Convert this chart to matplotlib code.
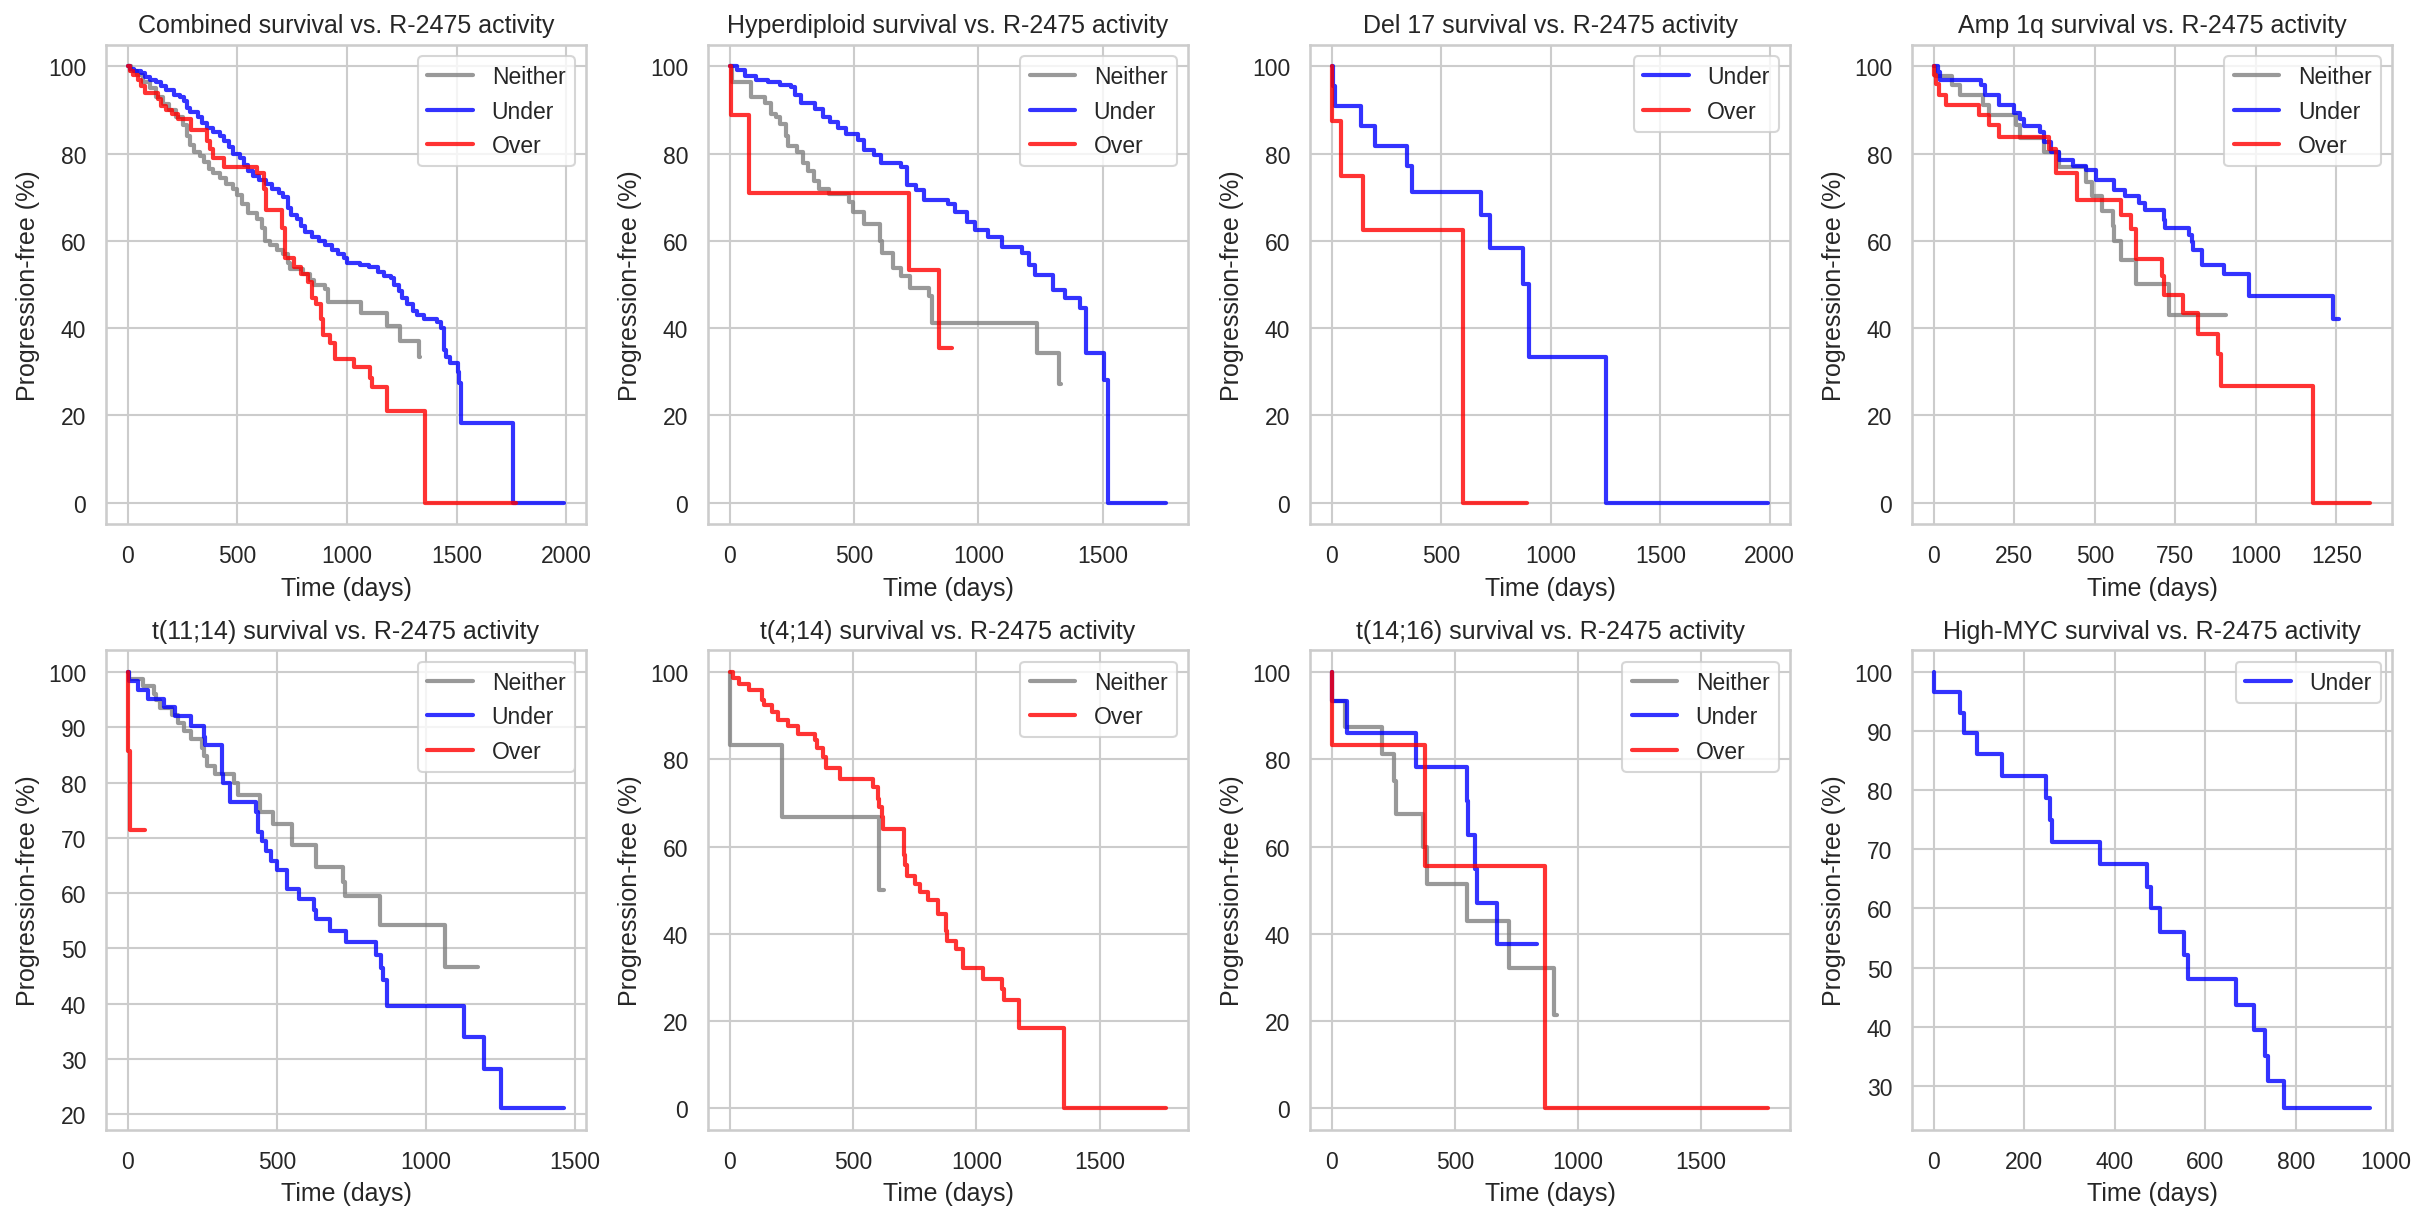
import matplotlib
matplotlib.use("Agg")
import matplotlib.pyplot as plt
import seaborn as sns

# ---------------- data (time in days, progression-free %) ----------------
comb_neither_t = [0, 15, 40, 70, 100, 130, 160, 190, 220, 250, 270, 285, 300, 330, 350, 370, 390, 420, 450, 480, 500, 520, 550, 590, 610, 625, 650, 680, 710, 730, 740, 800, 830, 850, 900, 915, 1065, 1180, 1240, 1328, 1332]
comb_neither_s = [100, 99, 98, 96.5, 95, 93, 91.5, 90, 88.5, 86.5, 84, 82, 80.5, 79.5, 78, 76.5, 75.5, 74.5, 73, 72, 70.5, 68.5, 66.5, 65, 63, 60, 59, 58, 57, 55, 53.5, 52.5, 51, 50, 49, 46, 43.5, 40.5, 37, 33.5, 33.5]
comb_under_t = [0, 10, 30, 60, 80, 100, 130, 150, 175, 210, 240, 255, 270, 285, 320, 340, 360, 390, 420, 440, 460, 480, 510, 530, 550, 570, 600, 630, 660, 690, 710, 730, 745, 770, 790, 810, 840, 870, 900, 930, 960, 985, 1000, 1060, 1100, 1140, 1170, 1200, 1215, 1235, 1250, 1275, 1300, 1320, 1350, 1410, 1430, 1440, 1450, 1470, 1505, 1510, 1518, 1755, 1990]
comb_under_s = [100, 99.5, 99, 98.5, 97.5, 97, 96.5, 95.5, 94.5, 93.5, 93, 92, 90.5, 89.5, 88.5, 87, 86, 85, 84, 83, 81.5, 80, 79, 77.5, 76, 75, 74, 73, 72, 71, 70, 67.5, 66, 65, 63.5, 62, 61, 60, 59, 58, 57, 56, 55, 54.5, 54, 53, 52, 51.5, 50, 48.5, 47, 45.5, 44, 43, 42, 41.5, 40, 35, 33.5, 32, 30, 27.5, 18.3, 0, 0]
comb_over_t = [0, 10, 25, 45, 60, 80, 140, 150, 175, 200, 230, 290, 360, 375, 390, 440, 590, 620, 630, 700, 705, 715, 760, 790, 820, 840, 860, 880, 890, 920, 945, 1030, 1105, 1115, 1180, 1355, 1770]
comb_over_s = [100, 99, 98, 97, 95.5, 94, 92.5, 91, 90, 89, 88, 85.5, 83, 81, 79, 77, 75.5, 72, 67, 67, 63, 56, 54, 52.5, 50.5, 47, 45.5, 42, 38.5, 36.5, 33, 31, 28.5, 26.5, 21, 0, 0]

hyp_neither_t = [0, 8, 85, 140, 165, 185, 200, 225, 235, 270, 295, 315, 340, 360, 400, 480, 495, 540, 605, 612, 655, 690, 725, 800, 815, 1237, 1325, 1330]
hyp_neither_s = [100, 96.5, 93, 91.7, 89, 88.5, 86.8, 84, 81.8, 80.5, 77.8, 76, 73.8, 72, 70.7, 69, 66.6, 64, 60, 57.2, 53.7, 51.9, 49.2, 47.4, 41.1, 34.4, 27.3, 27.3]
hyp_under_t = [0, 28, 60, 107, 154, 201, 248, 264, 287, 342, 374, 405, 436, 468, 515, 539, 578, 610, 688, 711, 750, 782, 876, 907, 954, 985, 1040, 1095, 1174, 1205, 1229, 1300, 1347, 1410, 1433, 1504, 1520, 1755]
hyp_under_s = [100, 99.3, 97.9, 97, 96.4, 95.7, 95.3, 93.5, 91.7, 90.3, 88.5, 87.2, 85.9, 84.5, 83.2, 80.9, 79.6, 77.8, 76.9, 72.9, 71.6, 69.3, 68.4, 66.6, 64.4, 62.6, 60.8, 58.6, 57.2, 54.6, 52.3, 48.7, 47, 44.7, 34.4, 28.2, 0, 0]
hyp_over_t = [0, 3, 78, 719, 841, 892]
hyp_over_s = [100, 88.9, 71.1, 53.3, 35.5, 35.5]

del_under_t = [0, 5, 15, 133, 199, 342, 368, 680, 721, 872, 902, 1254, 1993]
del_under_s = [100, 95.5, 90.9, 86.4, 81.8, 77.3, 71.2, 65.9, 58.5, 50.1, 33.4, 0, 0]
del_over_t = [0, 2, 41, 142, 601, 893]
del_over_s = [100, 87.5, 75, 62.5, 0, 0]

amp_neither_t = [0, 5, 57, 81, 153, 171, 256, 268, 341, 389, 472, 490, 522, 555, 560, 582, 628, 731, 906]
amp_neither_s = [100, 97.8, 95.7, 93.4, 91.2, 88.9, 86.7, 83.5, 80.5, 77, 73.5, 70.2, 66.8, 63.4, 60, 55.7, 50.1, 43, 43]
amp_under_t = [0, 14, 20, 147, 159, 202, 250, 268, 280, 329, 341, 365, 389, 431, 473, 503, 558, 594, 636, 654, 715, 718, 793, 800, 806, 833, 902, 978, 1240, 1258]
amp_under_s = [100, 98.7, 97, 95.7, 93.4, 91.2, 89.4, 88, 86.4, 85, 82.6, 80.4, 78.6, 77.3, 76.3, 74, 71.6, 70.2, 68.6, 67.1, 64.9, 63, 61.3, 59.7, 58, 54.5, 52.4, 47.4, 42.2, 42.2]
amp_over_t = [0, 2, 8, 17, 39, 141, 171, 202, 359, 379, 443, 580, 612, 628, 709, 715, 775, 821, 882, 890, 1176, 1355]
amp_over_s = [100, 98, 96, 93.4, 91.2, 88.9, 86.6, 83.8, 81, 75.6, 69.5, 66, 62.8, 55.8, 52, 47.7, 43.4, 38.6, 34, 26.8, 0, 0]

t1114_neither_t = [0, 4, 50, 89, 96, 109, 148, 168, 187, 213, 250, 255, 266, 292, 357, 370, 442, 488, 551, 630, 722, 728, 844, 1064, 1175]
t1114_neither_s = [100, 98.8, 97.5, 96, 95, 93.5, 92.2, 90.8, 89.4, 87.9, 86.3, 84.9, 83, 81.5, 79.9, 77.8, 74.6, 72.6, 68.8, 64.7, 62, 59.4, 54.3, 46.6, 46.6]
t1114_under_t = [0, 4, 33, 69, 122, 158, 211, 255, 259, 315, 320, 344, 429, 435, 449, 462, 479, 501, 534, 573, 625, 630, 678, 730, 831, 848, 855, 868, 1127, 1195, 1250, 1463]
t1114_under_s = [100, 98.4, 96.8, 95.2, 93.6, 92, 90.3, 88.3, 86.8, 81.5, 80, 76.4, 74.6, 71.1, 69.4, 67.6, 65.9, 64.2, 60.7, 58.9, 57, 55.3, 53.1, 51.1, 48.8, 46.5, 44.3, 39.5, 33.9, 28.2, 21.1, 21.1]
t1114_over_t = [0, 1, 8, 59]
t1114_over_s = [100, 85.7, 71.4, 71.4]

t414_neither_t = [0, 1, 210, 606, 627]
t414_neither_s = [100, 83.3, 66.7, 50, 50]
t414_over_t = [0, 13, 36, 79, 131, 140, 171, 195, 234, 278, 345, 355, 377, 392, 448, 582, 600, 606, 615, 622, 706, 708, 712, 718, 750, 773, 805, 845, 876, 880, 915, 946, 1025, 1104, 1110, 1171, 1354, 1769]
t414_over_s = [100, 98.6, 97.2, 95.8, 93.5, 92.4, 90.8, 89, 87.6, 85.8, 84.4, 82.6, 80.6, 78.1, 75.4, 73.6, 71, 69, 66.8, 63.9, 60.5, 58, 55.8, 53.3, 51.5, 49.6, 47.8, 44.5, 40.7, 38.4, 36.5, 32.1, 29.7, 27.3, 24.7, 18.5, 0, 0]

t1416_neither_t = [0, 1, 52, 203, 254, 260, 370, 386, 548, 719, 905, 914]
t1416_neither_s = [100, 93.3, 87.4, 81.2, 75, 67.5, 60, 51.4, 42.9, 32.2, 21.4, 21.4]
t1416_under_t = [0, 1, 63, 341, 548, 552, 581, 592, 671, 835]
t1416_under_s = [100, 93.3, 86, 78.2, 70.4, 62.7, 54.8, 47, 37.6, 37.6]
t1416_over_t = [0, 1, 381, 867, 1775]
t1416_over_s = [100, 83.3, 55.6, 0, 0]

myc_under_t = [0, 1, 58, 67, 96, 150, 247, 256, 262, 367, 472, 480, 499, 552, 561, 669, 707, 733, 738, 774, 965]
myc_under_s = [100, 96.6, 93.1, 89.7, 86.2, 82.4, 78.7, 75, 71.3, 67.5, 63.7, 60, 56, 52.1, 48, 43.6, 39.4, 35.1, 30.8, 26.2, 26.2]

panel_titles = ["Combined", "Hyperdiploid", "Del 17", "Amp 1q",
                "t(11;14)", "t(4;14)", "t(14;16)", "High-MYC"]
panel_series = [
    [("Neither", comb_neither_t, comb_neither_s), ("Under", comb_under_t, comb_under_s), ("Over", comb_over_t, comb_over_s)],
    [("Neither", hyp_neither_t, hyp_neither_s), ("Under", hyp_under_t, hyp_under_s), ("Over", hyp_over_t, hyp_over_s)],
    [("Under", del_under_t, del_under_s), ("Over", del_over_t, del_over_s)],
    [("Neither", amp_neither_t, amp_neither_s), ("Under", amp_under_t, amp_under_s), ("Over", amp_over_t, amp_over_s)],
    [("Neither", t1114_neither_t, t1114_neither_s), ("Under", t1114_under_t, t1114_under_s), ("Over", t1114_over_t, t1114_over_s)],
    [("Neither", t414_neither_t, t414_neither_s), ("Over", t414_over_t, t414_over_s)],
    [("Neither", t1416_neither_t, t1416_neither_s), ("Under", t1416_under_t, t1416_under_s), ("Over", t1416_over_t, t1416_over_s)],
    [("Under", myc_under_t, myc_under_s)],
]
group_colors = {"Neither": "gray", "Under": "blue", "Over": "red"}

# ---------------- style ----------------
sns.set_theme(style="whitegrid")
plt.rcParams["font.family"] = ["Liberation Sans", "DejaVu Sans"]

fig, axes = plt.subplots(2, 4, figsize=(2418 / 150, 1218 / 150), dpi=150)
fig.subplots_adjust(left=0.0438, right=0.9893, top=0.9625, bottom=0.0714,
                    wspace=0.254, hspace=0.262)

for ax, title, series in zip(axes.flat, panel_titles, panel_series):
    for label, t, s in series:
        ax.step(t, s, where="post", color=group_colors[label], alpha=0.8,
                lw=2, label=label)
    ax.set_title(f"{title} survival vs. R-2475 activity", fontsize=12)
    ax.set_xlabel("Time (days)", fontsize=12)
    ax.set_ylabel("Progression-free (%)", fontsize=12)
    ax.tick_params(labelsize=11)
    ax.legend(loc="upper right", fontsize=11)

fig.savefig("out.png", dpi=150)
